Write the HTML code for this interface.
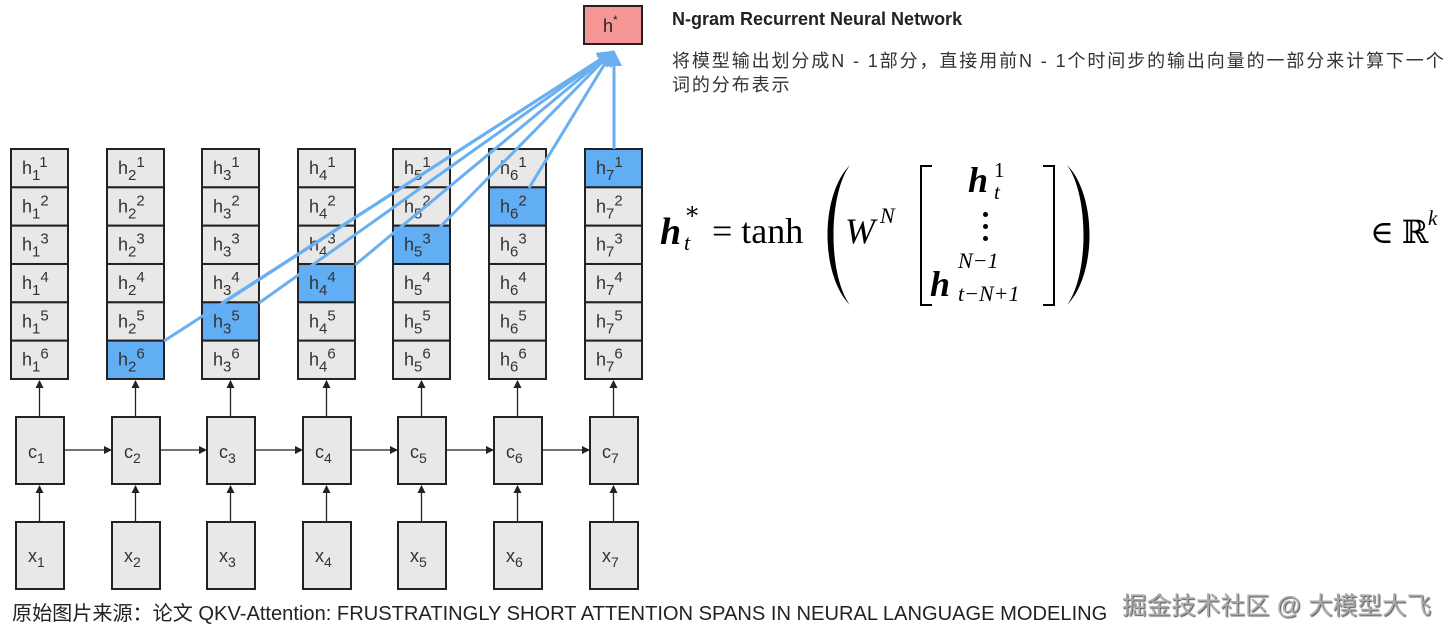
<!DOCTYPE html>
<html><head><meta charset="utf-8"><style>
body{margin:0;width:1451px;height:638px;background:#fff;position:relative;overflow:hidden;font-family:"Liberation Sans","Noto Sans CJK SC",sans-serif}
.a{position:absolute;white-space:nowrap;line-height:1}
.m{font-family:"Liberation Serif","DejaVu Serif",serif}
</style></head><body>
<svg width="1451" height="638" style="position:absolute;left:0;top:0" font-family="Liberation Sans, sans-serif">
<defs>
<marker id="ar" markerWidth="8" markerHeight="8" refX="7" refY="4" orient="auto" markerUnits="userSpaceOnUse"><path d="M0,0 L8,4 L0,8 z" fill="#222"/></marker>
<marker id="bar" markerWidth="16" markerHeight="16" refX="14" refY="8" orient="auto" markerUnits="userSpaceOnUse"><path d="M0,0 L16,8 L0,16 z" fill="#6ab0f0"/></marker>
</defs>
<g id="cells" stroke="#222" stroke-width="2" font-size="18" fill="#333"></g>
<rect x="584" y="6" width="58" height="38" fill="#f79696" stroke="#222" stroke-width="2"/>
<text x="603" y="32" font-size="18" fill="#222">h<tspan dy="-8" font-size="12">*</tspan></text>
<g stroke="#6ab0f0" stroke-width="3" fill="none">
<line x1="164" y1="341" x2="612" y2="52" marker-end="url(#bar)"/>
<line x1="222" y1="303" x2="612" y2="52" marker-end="url(#bar)"/>
<line x1="259" y1="303" x2="612" y2="52" marker-end="url(#bar)"/>
<line x1="355" y1="265" x2="612" y2="52" marker-end="url(#bar)"/>
<line x1="440" y1="227" x2="612" y2="52" marker-end="url(#bar)"/>
<line x1="529" y1="188" x2="612" y2="52" marker-end="url(#bar)"/>
<line x1="614" y1="149" x2="614" y2="52" marker-end="url(#bar)"/>
</g>
<path d="M850,165 C820,195 820,275 850,305 C828,275 828,195 850,165 Z" fill="#000"/>
<path d="M1067,165 C1097,195 1097,275 1067,305 C1089,275 1089,195 1067,165 Z" fill="#000"/>
<path d="M932,166 H921 V305 H932" fill="none" stroke="#000" stroke-width="2"/>
<path d="M1043,166 H1054 V305 H1043" fill="none" stroke="#000" stroke-width="2"/>
</svg>
<script>
var xs=[11,107,202,298,393,489,585],g=document.getElementById('cells'),s='';
for(var i=0;i<7;i++){var x=xs[i],cx=x+28;
for(var r=0;r<6;r++){var y=149+r*38.33;
s+='<rect x="'+x+'" y="'+y+'" width="57" height="38.33" fill="'+((i>0&&r==6-i)?'#62aef5':'#e8e8e8')+'"/>';
s+='<text x="'+(cx-17)+'" y="'+(y+25)+'" stroke="none">h<tspan dy="6" font-size="15">'+(i+1)+'</tspan><tspan dy="-13" font-size="15">'+(r+1)+'</tspan></text>';}
s+='<line x1="'+(x+28.5)+'" y1="417" x2="'+(x+28.5)+'" y2="381" marker-end="url(#ar)" stroke-width="1.3"/>';
s+='<rect x="'+(x+5)+'" y="417" width="48" height="67" fill="#e8e8e8"/>';
s+='<text x="'+(cx-11)+'" y="458" stroke="none">c<tspan dy="5" font-size="14">'+(i+1)+'</tspan></text>';
s+='<line x1="'+(x+28.5)+'" y1="522" x2="'+(x+28.5)+'" y2="486" marker-end="url(#ar)" stroke-width="1.3"/>';
s+='<rect x="'+(x+5)+'" y="522" width="48" height="67" fill="#e8e8e8"/>';
s+='<text x="'+(cx-11)+'" y="562" stroke="none">x<tspan dy="5" font-size="14">'+(i+1)+'</tspan></text>';
if(i<6)s+='<line x1="'+(x+53)+'" y1="450" x2="'+(xs[i+1]+4)+'" y2="450" marker-end="url(#ar)" stroke-width="1.3"/>';}
g.innerHTML=s;
</script>
<div class="a" style="left:672px;top:10px;font-size:18px;font-weight:bold;color:#222">N-gram Recurrent Neural Network</div>
<div class="a" style="left:672px;top:49px;font-size:18px;letter-spacing:1.9px;color:#333;line-height:24px">将模型输出划分成N - 1部分，直接用前N - 1个时间步的输出向量的一部分来计算下一个<br>词的分布表示</div>
<div class="a m" style="left:660px;top:213px;font-size:38px;font-style:italic;font-weight:bold">h</div>
<div class="a m" style="left:684px;top:200px;font-size:24px;">∗</div>
<div class="a m" style="left:684px;top:232px;font-size:22px;font-style:italic">t</div>
<div class="a m" style="left:712px;top:213px;font-size:36px">= tanh</div>
<div class="a m" style="left:845px;top:213px;font-size:36px;font-style:italic">W</div>
<div class="a m" style="left:880px;top:205px;font-size:22px;font-style:italic">N</div>
<div class="a m" style="left:968px;top:162px;font-size:36px;font-style:italic;font-weight:bold">h</div>
<div class="a m" style="left:994px;top:160px;font-size:21px">1</div>
<div class="a m" style="left:994px;top:182px;font-size:21px;font-style:italic">t</div>
<div class="a" style="left:983px;top:212px;width:5px;height:5px;background:#000;border-radius:50%"></div>
<div class="a" style="left:983px;top:224px;width:5px;height:5px;background:#000;border-radius:50%"></div>
<div class="a" style="left:983px;top:236px;width:5px;height:5px;background:#000;border-radius:50%"></div>
<div class="a m" style="left:930px;top:266px;font-size:36px;font-style:italic;font-weight:bold">h</div>
<div class="a m" style="left:958px;top:250px;font-size:22px;font-style:italic">N−1</div>
<div class="a m" style="left:958px;top:283px;font-size:22px;font-style:italic">t−N+1</div>
<div class="a m" style="left:1370px;top:216px;font-size:32px">∈ ℝ</div>
<div class="a m" style="left:1428px;top:208px;font-size:21px;font-style:italic">k</div>
<div class="a" style="left:12px;top:604px;font-size:20.1px;color:#222">原始图片来源：论文 QKV-Attention: FRUSTRATINGLY SHORT ATTENTION SPANS IN NEURAL LANGUAGE MODELING</div>
<div class="a" style="left:1122px;top:595px;font-size:24.6px;color:#aaa;text-shadow:1px 1px 1px #555">掘金技术社区 @ 大模型大飞</div>
</body></html>
